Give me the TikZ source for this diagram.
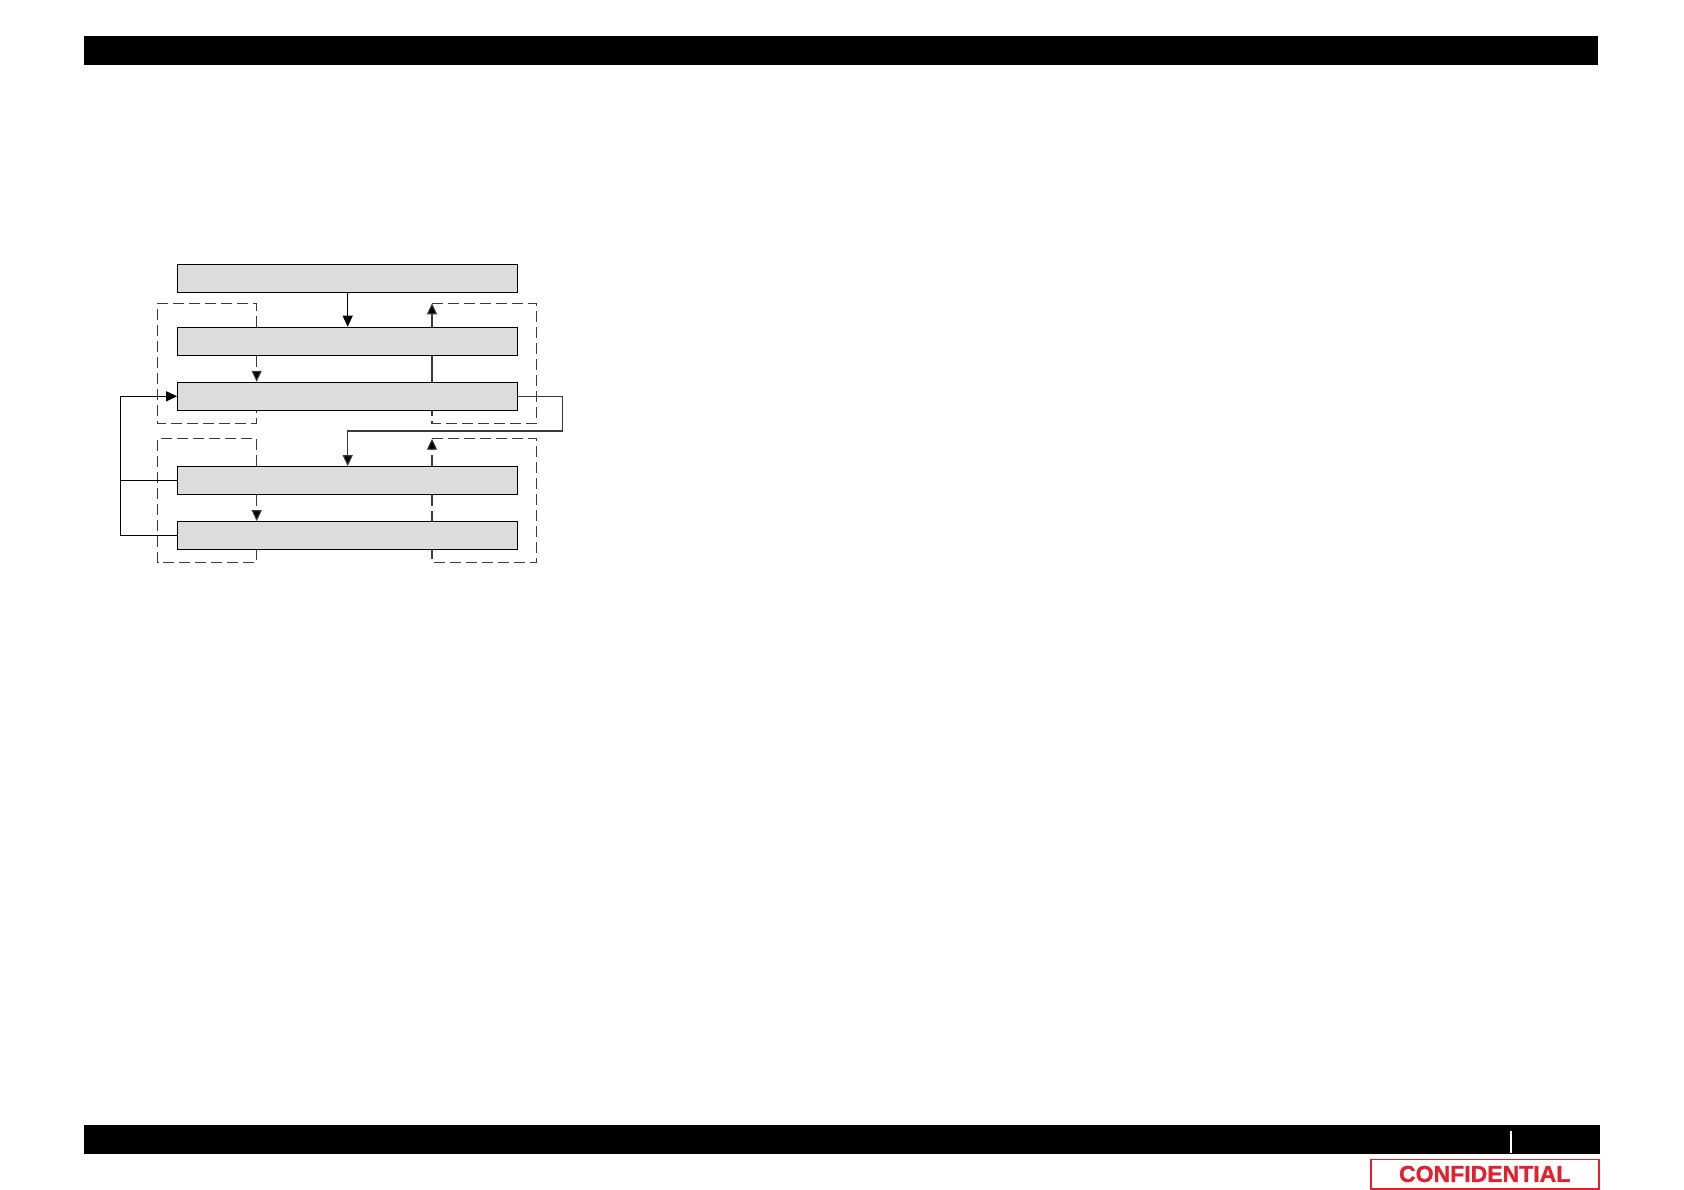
\documentclass[tikz,border=0pt]{standalone}
\usepackage{fontspec}
\setmainfont{Liberation Sans}
\newfontfamily\conffont[FakeBold=1.2]{Liberation Sans Bold}
\usetikzlibrary{arrows.meta,calc}
\definecolor{boxfill}{HTML}{DCDCDC}
\definecolor{confred}{HTML}{E1222E}
\definecolor{lnk}{HTML}{3A3A3A}
\tikzset{
  blk/.style={draw=black,line width=1.1pt,fill=boxfill,minimum width=340pt,minimum height=28pt,inner sep=0pt},
  conn/.style={draw=black,line width=1pt},
  frame/.style={draw=lnk,line width=1.1pt,dash pattern=on 11pt off 5pt},
  thin/.style={draw=lnk,line width=1.1pt},
  tip/.style={-{Triangle[length=11pt,width=10pt,fill=black]}},
  bar/.style={fill=black}
}
\begin{document}
\begin{tikzpicture}[x=1pt,y=-1pt]
\useasboundingbox (0,0) rectangle (1684,1190);
% header / footer
\fill[bar] (84,35.7) rectangle (1598,64.7);
\fill[bar] (84,1125) rectangle (1600,1154);
\draw[white,line width=1.5pt] (1511,1131) -- (1511,1152.7);
\node[draw=confred,line width=1.6pt,minimum width=228pt,minimum height=29.4pt,inner sep=0pt,
      text=confred,font=\conffont\fontsize{23}{23}\selectfont] (conf) at (1484.7,1174) {CONFIDENTIAL};
% boxes
\node[blk] (b1) at (347.7,278.8) {};
\node[blk] (b2) at (347.7,341.3) {};
\node[blk] (b3) at (347.7,396.3) {};
\node[blk] (b4) at (347.7,480.7) {};
\node[blk] (b5) at (347.7,535.7) {};
\coordinate (L) at (256.7,0);
\coordinate (R) at (432,0);
\coordinate (FL) at (157.7,0);
\coordinate (FR) at (536.3,0);
\coordinate (t1) at (0,303.3);
\coordinate (u1) at (0,423.3);
\coordinate (t2) at (0,438.7);
\coordinate (u2) at (0,562.7);
% group 1 frames
\draw[frame] (b2.north -| L) -- (L |- t1) -- (FL |- t1) -- (FL |- u1) -- (L |- u1) -- (b3.south -| L);
\draw[frame] (R |- t1) -- (FR |- t1) -- (FR |- u1) -- (R |- u1) -- (b3.south -| R);
% group 2 frames
\draw[frame] (b4.north -| L) -- (L |- t2) -- (FL |- t2) -- (FL |- u2) -- (L |- u2) -- (b5.south -| L);
\draw[frame] (R |- t2) -- (FR |- t2) -- (FR |- u2) -- (R |- u2) -- (b5.south -| R);
% connectors
\draw[conn,tip] (b1.south) -- (b2.north);
\draw[thin,tip] (b2.north -| R) -- (R |- t1);
\draw[thin] (b3.north -| R) -- (b2.south -| R);
\draw[frame,tip] (b2.south -| L) -- (b3.north -| L);
\draw[frame,tip] (b4.north -| R) -- (R |- t2);
\draw[frame] (b4.south -| R) -- (b5.north -| R);
\draw[frame,tip] (b4.south -| L) -- (b5.north -| L);
\coordinate (rx) at (562.7,431);
\coordinate (lx) at (120.7,0);
\draw[thin,tip] (b3.east) -- (rx |- b3.east) -- (rx) -- (b4.north |- rx) -- (b4.north);
\draw[conn] (b4.west) -- (lx |- b4.west);
\draw[conn,tip] (b5.west) -- (lx |- b5.west) -- (lx |- b3.west) -- (b3.west);
\end{tikzpicture}
\end{document}
